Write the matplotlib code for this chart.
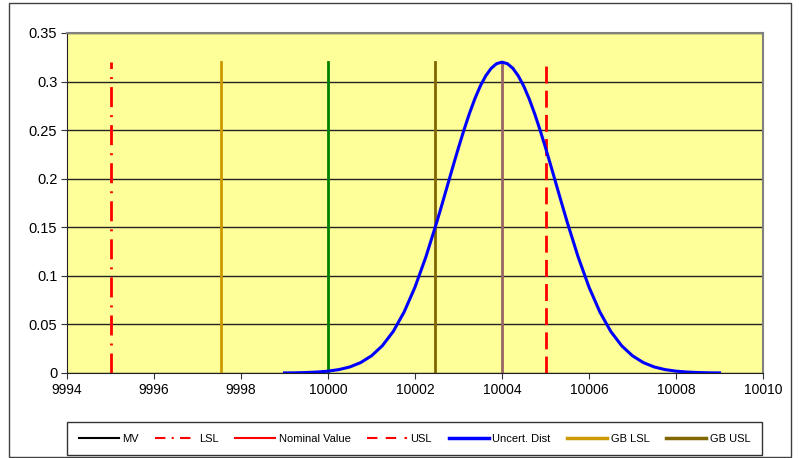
"""Tolerance chart: measured value vs. spec limits and guard bands."""

import matplotlib
matplotlib.use('Agg')
import matplotlib.pyplot as plt
from matplotlib.lines import Line2D
from matplotlib.patches import Rectangle
from matplotlib.ticker import FuncFormatter, MultipleLocator

plt.rcParams['font.family'] = ['Liberation Sans', 'DejaVu Sans']

# Vertical markers (x position), all drawn from 0 up to LINE_TOP
LSL = 9995.0
GB_LSL = 9997.55
NOMINAL = 10000.0
GB_USL = 10002.45
MV = 10004.0
USL = 10005.0
LINE_TOP = 0.32

# Uncertainty distribution (denser near the peak)
dist_x = [9999.0, 9999.25, 9999.5, 9999.75, 10000.0, 10000.25, 10000.5,
          10000.75, 10001.0, 10001.25, 10001.5, 10001.75, 10002.0, 10002.25,
          10002.5, 10002.625, 10002.75, 10002.875, 10003.0, 10003.125,
          10003.25, 10003.375, 10003.5, 10003.625, 10003.75, 10003.875,
          10004.0, 10004.125, 10004.25, 10004.375, 10004.5, 10004.625,
          10004.75, 10004.875, 10005.0, 10005.125, 10005.25, 10005.375,
          10005.5, 10005.75, 10006.0, 10006.25, 10006.5, 10006.75, 10007.0,
          10007.25, 10007.5, 10007.75, 10008.0, 10008.25, 10008.5, 10008.75,
          10009.0]
dist_y = [0.0001, 0.0002, 0.0005, 0.0010, 0.0019, 0.0035, 0.0062, 0.0107,
          0.0177, 0.0281, 0.0428, 0.0628, 0.0884, 0.1195, 0.1552, 0.1742,
          0.1936, 0.2130, 0.2320, 0.2501, 0.2670, 0.2822, 0.2953, 0.3058,
          0.3136, 0.3184, 0.3200, 0.3184, 0.3136, 0.3058, 0.2953, 0.2822,
          0.2670, 0.2501, 0.2320, 0.2130, 0.1936, 0.1742, 0.1552, 0.1195,
          0.0884, 0.0628, 0.0428, 0.0281, 0.0177, 0.0107, 0.0062, 0.0035,
          0.0019, 0.0010, 0.0005, 0.0002, 0.0001]

LEGEND_LABELS = ['MV', 'LSL', 'Nominal Value', 'USL', 'Uncert. Dist',
                 'GB LSL', 'GB USL']

W, H = 799, 458
fig = plt.figure(figsize=(W / 100, H / 100), dpi=100)
fig.patches.append(Rectangle((9 / W, 1 - 457 / H), 782 / W, 454 / H,
                             transform=fig.transFigure, fill=False,
                             edgecolor='#404040', linewidth=1))

ax = fig.add_axes([67 / W, 1 - 373 / H, 696 / W, 340 / H])
ax.set_facecolor('#FFFF99')

LSL_DASH = (7.2, 2.9, 0.7, 2.9)
USL_DASH = (6.1, 2.6)

ax.plot([LSL, LSL], [0, LINE_TOP], color='#FF0000', lw=2, dashes=LSL_DASH)
ax.plot([GB_LSL, GB_LSL], [0, LINE_TOP], color='#CC9900', lw=2)
ax.plot([NOMINAL, NOMINAL], [0, LINE_TOP], color='#008000', lw=2)
ax.plot([GB_USL, GB_USL], [0, LINE_TOP], color='#806600', lw=2)
ax.plot([MV, MV], [0, LINE_TOP], color='#996666', lw=2)
ax.plot([USL, USL], [0, LINE_TOP], color='#FF0000', lw=2, dashes=USL_DASH)
ax.plot(dist_x, dist_y, color='#0000FF', lw=2.2, solid_joinstyle='round')

ax.set_xlim(9994, 10010)
ax.set_ylim(0, 0.35)
ax.xaxis.set_major_locator(MultipleLocator(2))
ax.yaxis.set_major_locator(MultipleLocator(0.05))
ax.yaxis.set_major_formatter(FuncFormatter(lambda v, _: f'{v:g}'))
ax.xaxis.set_major_formatter(FuncFormatter(lambda v, _: f'{v:.0f}'))
ax.tick_params(labelsize=10, length=4, color='#333333', pad=3)
ax.tick_params(axis='y', labelsize=10.5)
ax.grid(axis='y', color='#222222', linewidth=1)
ax.set_axisbelow(True)
for side in ('top', 'right'):
    ax.spines[side].set_color('#808080')
    ax.spines[side].set_linewidth(1.5)
for side in ('left', 'bottom'):
    ax.spines[side].set_color('#222222')

handles = [
    Line2D([], [], color='black', lw=1.5),
    Line2D([], [], color='#FF0000', lw=1.5, dashes=(5, 3, 1, 3)),
    Line2D([], [], color='#FF0000', lw=1.5),
    Line2D([], [], color='#FF0000', lw=1.5, dashes=(5, 4)),
    Line2D([], [], color='#0000FF', lw=2.5),
    Line2D([], [], color='#CC9900', lw=2.5),
    Line2D([], [], color='#806600', lw=2.5),
]
leg = fig.legend(handles, LEGEND_LABELS, ncol=7, loc='upper left',
                 bbox_to_anchor=(67 / W, 1 - 455 / H, 695 / W, 33 / H),
                 mode='expand', fontsize=8, handlelength=3.6,
                 handletextpad=0.3, columnspacing=1.0, borderaxespad=0,
                 borderpad=1.05, fancybox=False, frameon=True,
                 edgecolor='black')
leg.get_frame().set_linewidth(1)

fig.savefig('out.png', dpi=100)
